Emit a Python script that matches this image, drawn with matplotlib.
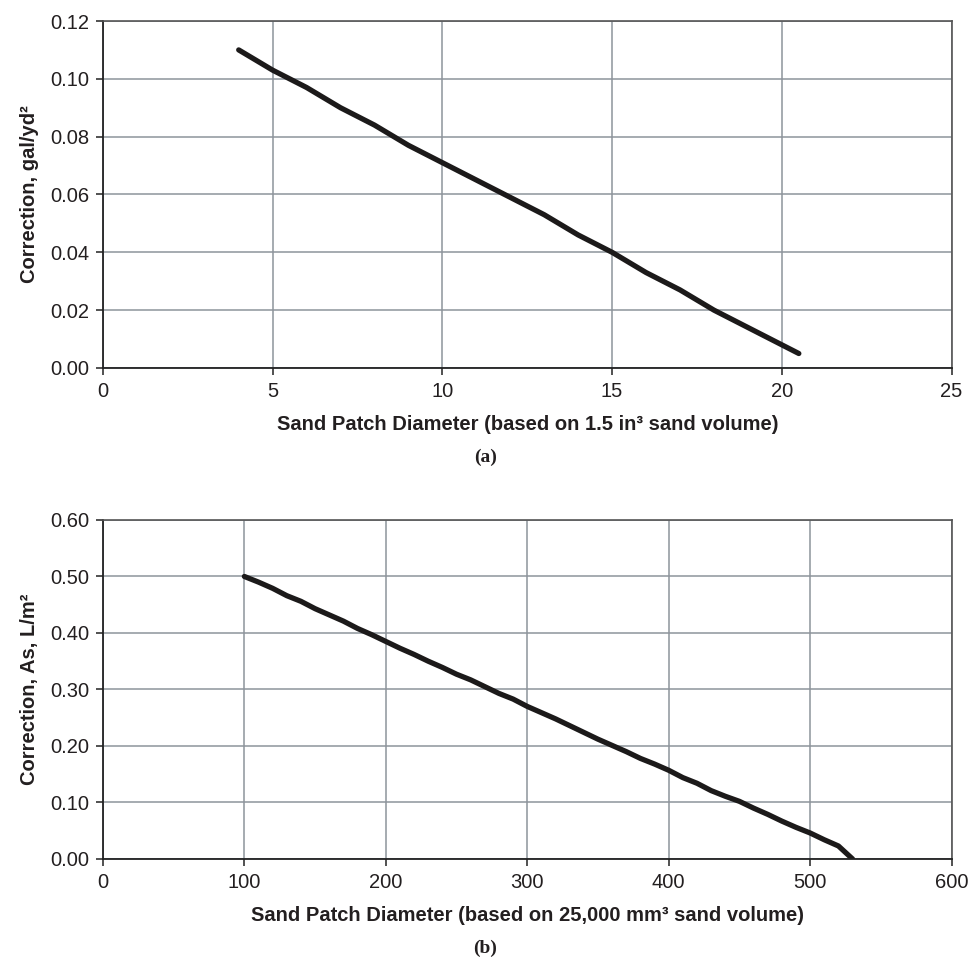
import numpy as np
import matplotlib
matplotlib.use("Agg")
import matplotlib.pyplot as plt

plt.rcParams['font.family'] = ['Liberation Sans', 'DejaVu Sans']

# Sand patch correction, US units (diameter in, correction gal/yd2)
dia_us = [4, 5, 6, 7, 8, 9, 10, 11, 12, 13, 14, 15, 16, 17, 18, 19, 20, 20.5]
corr_us = [0.110, 0.103, 0.097, 0.090, 0.084, 0.077, 0.071, 0.065, 0.059,
           0.053, 0.046, 0.040, 0.033, 0.027, 0.020, 0.014, 0.008, 0.005]

# Sand patch correction, SI units (diameter mm, correction L/m2)
dia_si = [100, 110, 120, 130, 140, 150, 160, 170, 180, 190, 200, 210, 220,
          230, 240, 250, 260, 270, 280, 290, 300, 310, 320, 330, 340, 350,
          360, 370, 380, 390, 400, 410, 420, 430, 440, 450, 460, 470, 480,
          490, 500, 510, 520, 530]
corr_si = [0.500, 0.490, 0.479, 0.466, 0.456, 0.443, 0.432, 0.421, 0.408,
           0.397, 0.385, 0.373, 0.362, 0.350, 0.339, 0.327, 0.317, 0.305,
           0.293, 0.283, 0.270, 0.259, 0.248, 0.236, 0.224, 0.212, 0.201,
           0.190, 0.178, 0.168, 0.157, 0.144, 0.134, 0.121, 0.111, 0.102,
           0.090, 0.079, 0.067, 0.056, 0.046, 0.034, 0.023, 0.000]

grid_col = '#8d949b'
line_col = '#1c1a1a'
txt_col = '#231f20'
fs = 14.5

fig = plt.figure(figsize=(9.71, 9.59), dpi=100)
ax1 = fig.add_axes([0.106, 0.6163, 0.874, 0.3618])
ax2 = fig.add_axes([0.106, 0.1043, 0.874, 0.3535])


def style_axes(ax):
    ax.grid(True, color=grid_col, linewidth=1.1)
    ax.set_axisbelow(True)
    for side in ['top', 'right']:
        ax.spines[side].set_color('#555555')
        ax.spines[side].set_linewidth(1.2)
    for side in ['left', 'bottom']:
        ax.spines[side].set_color('#222222')
        ax.spines[side].set_linewidth(1.3)
    ax.tick_params(direction='out', length=5, width=1.1, color='#222222',
                   labelsize=fs, labelcolor=txt_col, pad=5)


# (a) US units
ax1.plot(dia_us, corr_us, color=line_col, linewidth=3.8,
         solid_capstyle='round')
ax1.set_xlim(0, 25)
ax1.set_ylim(0, 0.12)
ax1.set_xticks(np.arange(0, 26, 5))
ax1.set_yticks(np.arange(0, 0.121, 0.02))
ax1.yaxis.set_major_formatter(plt.FormatStrFormatter('%.2f'))
style_axes(ax1)
ax1.set_xlabel('Sand Patch Diameter (based on 1.5 in³ sand volume)',
               fontsize=fs, fontweight='bold', color=txt_col, labelpad=10)
ax1.set_ylabel('Correction, gal/yd²', fontsize=fs, fontweight='bold',
               color=txt_col, labelpad=8)

# (b) SI units
ax2.plot(dia_si, corr_si, color=line_col, linewidth=3.8,
         solid_capstyle='round')
ax2.set_xlim(0, 600)
ax2.set_ylim(0, 0.60)
ax2.set_xticks(np.arange(0, 601, 100))
ax2.set_yticks(np.arange(0, 0.601, 0.10))
ax2.yaxis.set_major_formatter(plt.FormatStrFormatter('%.2f'))
style_axes(ax2)
ax2.set_xlabel('Sand Patch Diameter (based on 25,000 mm³ sand volume)',
               fontsize=fs, fontweight='bold', color=txt_col, labelpad=10)
ax2.set_ylabel('Correction, As, L/m²', fontsize=fs, fontweight='bold',
               color=txt_col, labelpad=8)

fig.text(0.5, 1 - 457 / 959, '(a)', ha='center', va='center',
         family='Liberation Serif', fontweight='bold', fontsize=14,
         color=txt_col)
fig.text(0.5, 1 - 948 / 959, '(b)', ha='center', va='center',
         family='Liberation Serif', fontweight='bold', fontsize=14,
         color=txt_col)

fig.savefig('out.png', dpi=100, facecolor='white')
